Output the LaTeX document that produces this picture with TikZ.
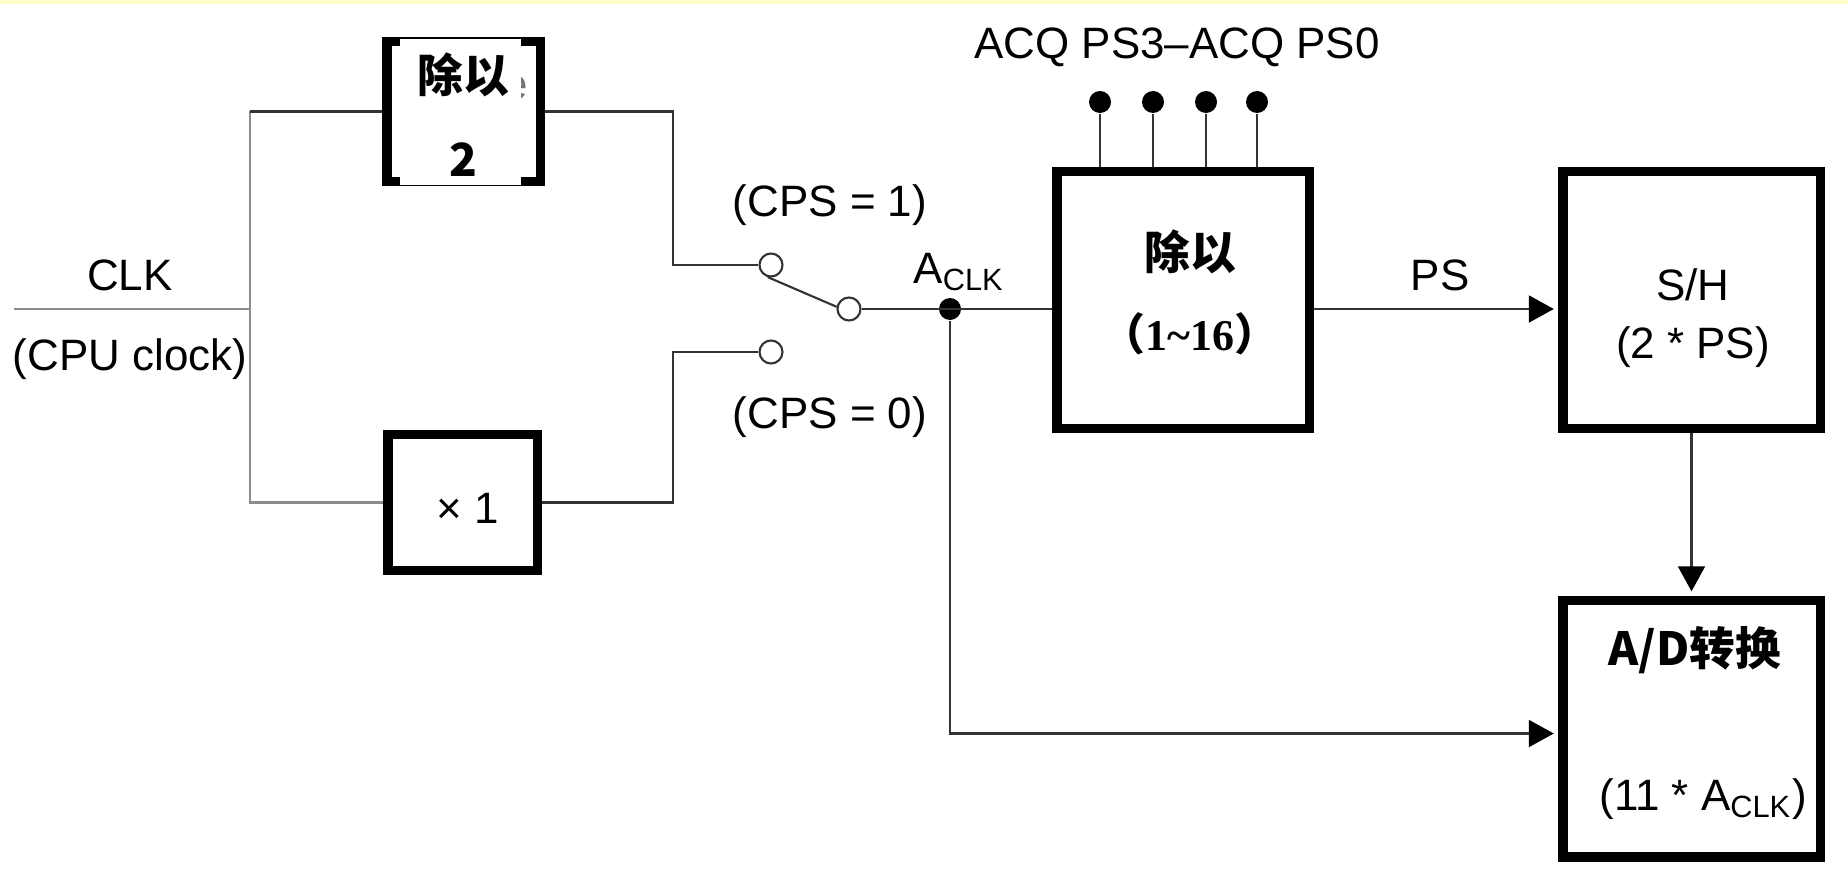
\documentclass[tikz,border=0pt]{standalone}
\usepackage{fontspec}
\setmainfont{Liberation Sans}
\newfontfamily\cjk{Noto Sans CJK SC}
\newfontfamily\timesbf{Liberation Serif}
\usepackage{tikz}
\usetikzlibrary{arrows.meta,calc}
\tikzstyle{blk}=[draw=black, line width=2.7pt, inner sep=0pt,% thick frames
minimum width=2.575cm, minimum height=2.565cm]
\tikzstyle{sblk}=[blk, minimum width=1.5cm, minimum height=1.38cm]
\tikzstyle{wire}=[line width=0.6pt, draw=black!80]
\tikzstyle{gwire}=[line width=0.8pt, draw=black!45]
\tikzstyle{dgraph}=[wire, -{Triangle[length=0.25cm,width=0.27cm,color=black]}, shorten >=1.2pt]
\tikzstyle{contact}=[circle, draw=black!80, fill=white, line width=0.6pt, minimum size=0.23cm, inner sep=0pt]
\tikzstyle{contblk}=[circle, fill=black, minimum size=0.22cm, inner sep=0pt]
\tikzstyle{txt}=[font=\fontsize{12.5}{15}\selectfont, inner sep=0pt]
\tikzstyle{hz}=[font=\cjk\bfseries\fontsize{13}{15}\selectfont, inner sep=0pt]

\begin{document}
\begin{tikzpicture}
\useasboundingbox (0,0) rectangle (18.48,8.74);
\fill[yellow!20] (0,8.70) rectangle (18.48,8.74);
% boxes
\node[sblk, minimum width=1.535cm, minimum height=1.395cm] (div2) at (4.635,7.625) {};
\node[txt, text=black!55] (ghost) at (5.16,7.86) {e};
\node[fill=white, inner sep=0pt, minimum width=1.21cm, minimum height=1.46cm] (cover) at (4.605,7.62) {};
\node[hz] (div2a) at (4.63,7.99) {除以};
\node[hz] (div2b) at (4.63,7.14) {2};
\node[sblk, minimum width=1.495cm, minimum height=1.355cm] (times1) at (4.625,3.715) {};
\node[txt] (times1t) at (4.68,3.66) {× 1};
\node[blk, minimum width=2.525cm] (presc) at (11.83,5.74) {};
\node[hz] (presca) at (11.90,6.22) {除以};
\node[inner sep=0pt] (prescb) at (11.90,5.40) {\fontsize{12.5}{15}\selectfont{\cjk\bfseries （}{\timesbf\bfseries 1\textasciitilde16}{\cjk\bfseries ）}};
\node[blk] (sh) at (16.915,5.74) {};
\node[txt, align=center, font=\fontsize{12.5}{16.5}\selectfont] (sht) at (16.93,5.56) {S/H\\(2 * PS)};
\node[blk] (adc) at (16.915,1.455) {};
\node[hz] (adca) at (16.95,2.24) {A/D转换};
\node[txt] (adcb) at (17.03,0.75) {(11 * A\textsubscript{CLK})};
% switch
\node[contact] (uc) at (7.71,6.09) {};
\node[contact] (lc) at (7.71,5.22) {};
\node[contact] (cc) at (8.49,5.65) {};
\node[contblk] (aclk) at (9.50,5.65) {};
\coordinate (clkin) at (0.14,5.65);
\coordinate (split) at (2.50,5.65);
\coordinate (sw) at (6.73,0);
% labels
\node[txt] (clk) at (1.30,5.99) {CLK};
\node[txt] (cpu) at (1.30,5.15) {(CPU clock)};
\node[txt] (cps1) at (8.30,6.69) {(CPS = 1)};
\node[txt] (cps0) at (8.30,4.57) {(CPS = 0)};
\node[txt] (aclkl) at (9.59,6.02) {A\textsubscript{CLK}};
\node[txt] (acq) at (11.77,8.27) {ACQ PS3–ACQ PS0};
\node[txt] (ps) at (14.40,5.99) {PS};
% pins
\foreach \i/\x in {1/11.00,2/11.53,3/12.06,4/12.57}{
  \node[contblk] (pin\i) at (\x,7.72) {};
  \draw[wire] (pin\i) -- (pin\i |- presc.north);
}
% wires
\draw[gwire] (clkin) -- (split);
\draw[gwire] (split |- div2) -- (split |- times1) -- (times1.west);
\draw[wire] (split |- div2) -- (div2.west);
\draw[wire] (div2.east) -| (sw |- uc) -- (uc.west);
\draw[wire] (times1.east) -| (sw |- lc) -- (lc.west);
\draw[wire] (uc.255) -- (cc.170);
\draw[wire] (cc.east) -- (presc.west |- cc);
\draw[dgraph] (presc.east |- aclk) -- (sh.west |- aclk);
\draw[dgraph] (sh.south) -- (adc.north);
\draw[dgraph] (aclk) |- ($(adc.west)+(0,-0.05)$);
\end{tikzpicture}
\end{document}
